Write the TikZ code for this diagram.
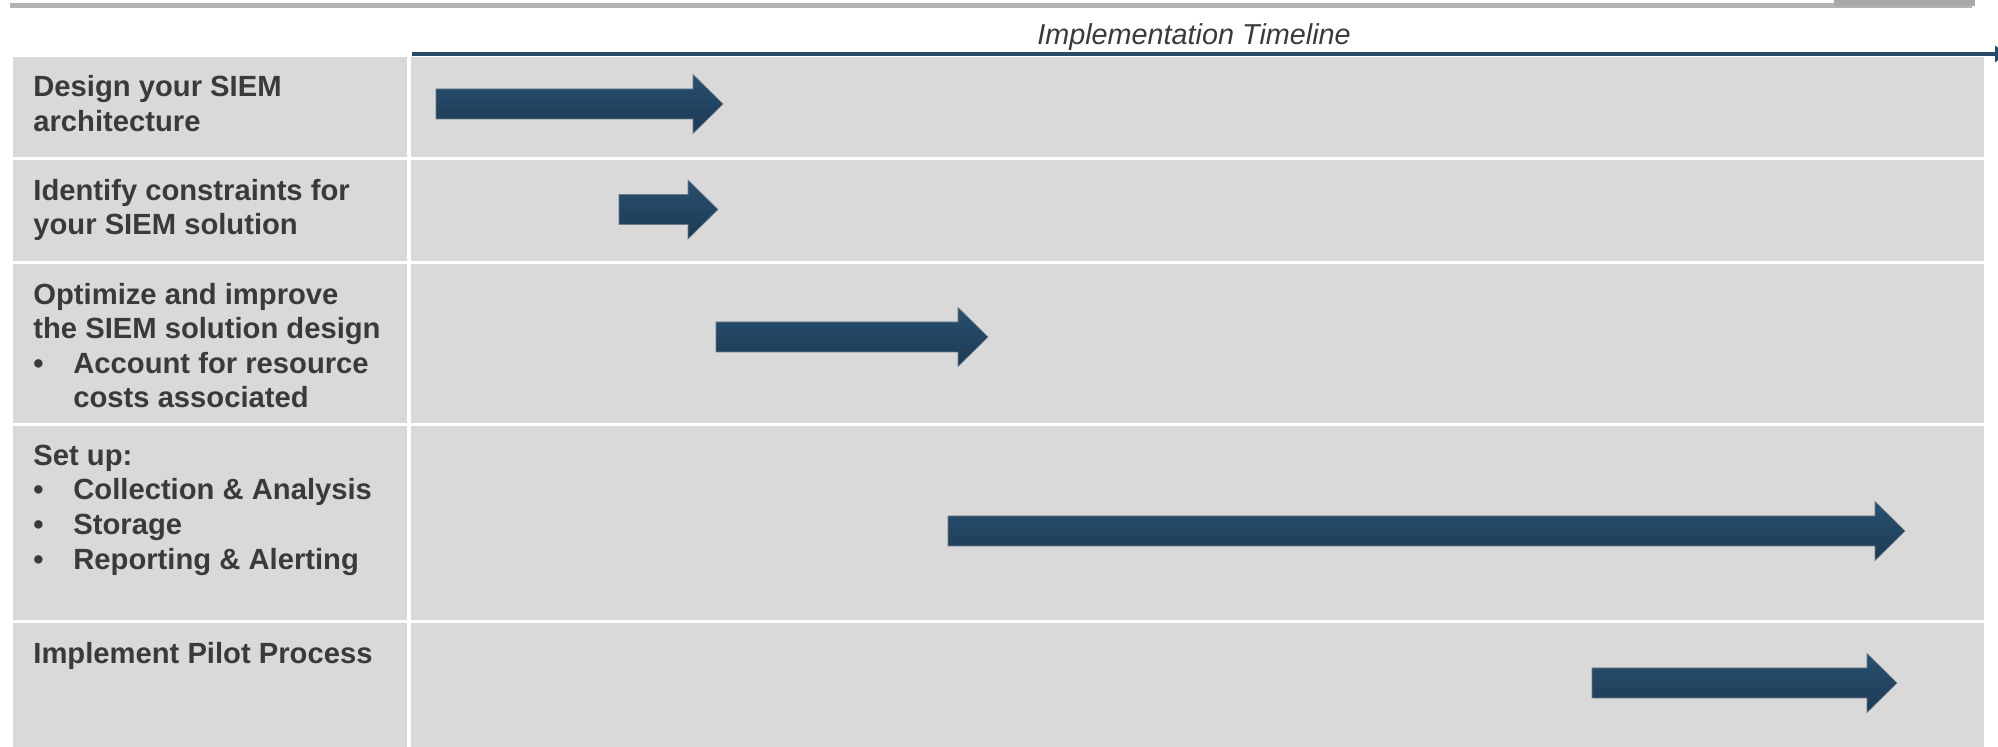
\documentclass[tikz,border=0pt]{standalone}
\usepackage{fontspec}
\setmainfont{Liberation Sans}
\usepackage{tikz}
\usetikzlibrary{arrows.meta,positioning}
\definecolor{ink}{HTML}{3A3A3A}
\definecolor{cell}{HTML}{D9D9D9}
\definecolor{rule}{HTML}{B3B3B3}
\definecolor{tab}{HTML}{A9A9A9}
\definecolor{navy}{HTML}{264A68}
\definecolor{navytop}{HTML}{27506F}
\definecolor{navybot}{HTML}{1E3A55}
\definecolor{rim}{HTML}{6E7B88}

\begin{document}
\begin{tikzpicture}[x=0.5pt,y=-0.5pt,
  every node/.style={font=\fontsize{14.6}{17.3}\selectfont\bfseries\color{ink}},
  c/.style={fill=cell},
  t/.style={anchor=north west,inner sep=0pt,align=left},
  bar/.style={draw=rim,line width=0.3pt,top color=navytop,bottom color=navybot}]
  \useasboundingbox (0,0) rectangle (1998,747);
  \clip (0,0) rectangle (1998,747);
  % top rule
  \fill[rule] (10,3.3) rectangle (1972,8.3);
  \fill[tab] (1834,0) rectangle (1975,6);
  % rows
  \foreach \ya/\yb in {57/157,160.5/261,264.5/423,426.5/620,623.5/747}{
    \fill[c] (13,\ya) rectangle (407,\yb);
    \fill[c] (411,\ya) rectangle (1984,\yb);
  }
  % timeline axis
  \node[font=\fontsize{14.4}{17}\selectfont\itshape,text=ink,anchor=base] (title) at (1194,45) {Implementation Timeline};
  \coordinate (tl0) at (412,54);
  \coordinate (tl1) at (2007,54);
  \draw[navy,line width=2pt,-{Triangle[width=8pt,length=6pt]}] (tl0) -- (tl1);
  % tasks
  \node[t] (design) at (33,75) {Design your SIEM\\architecture};
  \node[t] (limits) at (33,178.5) {Identify constraints for\\your SIEM solution};
  \node[t] (tune) at (33,282.5) {Optimize and improve\\the SIEM solution design\\\makebox[20pt][l]{•}Account for resource\\\hspace*{20pt}costs associated};
  \node[t] (setup) at (33,444.5) {Set up:\\\makebox[20pt][l]{•}Collection \& Analysis\\\makebox[20pt][l]{•}Storage\\\makebox[20pt][l]{•}Reporting \& Alerting};
  \node[t] (pilot) at (33,641.5) {Implement Pilot Process};
  % bars
  \foreach \xa/\xb/\ym in {436/723/104,619/718/209.5,716/988/337,948/1905/531,1592/1897/683}
    \path[bar] (\xa,\ym-15) -- (\xb-30,\ym-15) -- (\xb-30,\ym-29.5) -- (\xb,\ym)
      -- (\xb-30,\ym+29.5) -- (\xb-30,\ym+15) -- (\xa,\ym+15) -- cycle;
\end{tikzpicture}
\end{document}
